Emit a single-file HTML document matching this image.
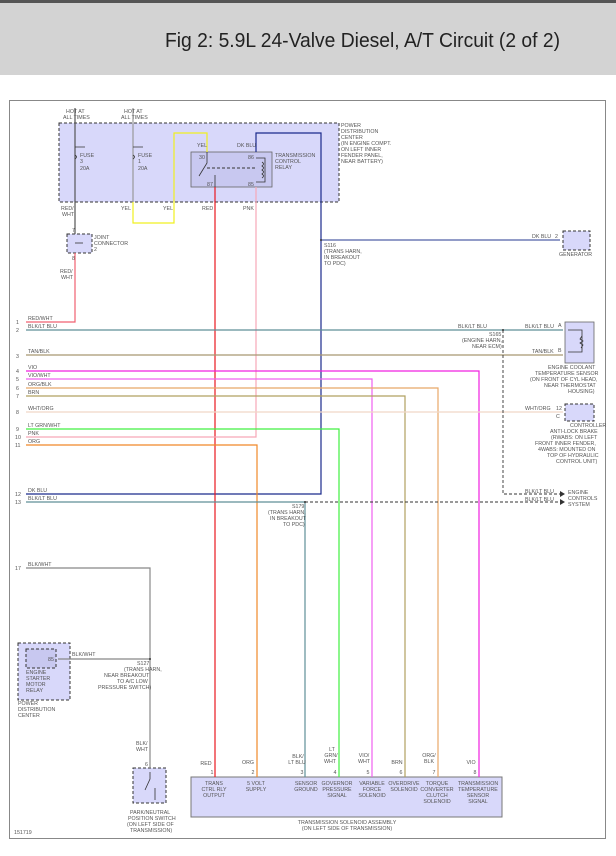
<!DOCTYPE html>
<html><head><meta charset="utf-8"><style>
body{margin:0;width:616px;height:856px;background:#fff;overflow:hidden}
svg{display:block}
text{font-family:"Liberation Sans",sans-serif;font-size:5.3px;fill:#555}
.t{font-size:20px;fill:#222}
</style></head><body>
<svg width="616" height="856" viewBox="0 0 616 856">
<rect x="0" y="0" width="616" height="3" fill="#555"/>
<rect x="0" y="3" width="616" height="72" fill="#d3d3d3"/>
<text x="165" y="47" class="t" textLength="395" lengthAdjust="spacingAndGlyphs">Fig 2: 5.9L 24-Valve Diesel, A/T Circuit (2 of 2)</text>
<rect x="9.5" y="100.5" width="596" height="738" fill="none" stroke="#888" stroke-width="1"/>

<!-- boxes -->
<rect x="59" y="123" width="280" height="79" fill="#d8d8fa" stroke="#333" stroke-width="1" stroke-dasharray="3,2"/>
<rect x="191" y="152" width="81" height="35" fill="#c8c8f0" stroke="#666" stroke-width="0.8"/>
<rect x="67" y="234" width="25" height="19" fill="#d8d8fa" stroke="#333" stroke-dasharray="3,2"/>
<rect x="563" y="231" width="27" height="19" fill="#d8d8fa" stroke="#333" stroke-dasharray="3,2"/>
<rect x="565" y="322" width="29" height="41" fill="#d8d8fa" stroke="#666" stroke-width="0.8"/>
<rect x="565" y="404" width="29" height="17" fill="#d8d8fa" stroke="#333" stroke-dasharray="3,2"/>
<rect x="18" y="643" width="52" height="57" fill="#d8d8fa" stroke="#333" stroke-dasharray="3,2"/>
<rect x="26" y="649" width="30" height="19" fill="#c8c8f0" stroke="#333" stroke-dasharray="3,2"/>
<rect x="133" y="768" width="33" height="35" fill="#d8d8fa" stroke="#333" stroke-dasharray="3,2"/>
<rect x="191" y="777" width="311" height="40" fill="#d8d8fa" stroke="#777" stroke-width="1"/>

<g fill="none" stroke-width="1.2">
<path d="M75 108V234" stroke="#555"/>
<path d="M133 108V202" stroke="#999"/>
<path d="M133 202V223H174V133H207V152" stroke="#f0f020"/>
<path d="M256 152V133H321V494H26" stroke="#1a2a8c"/>
<path d="M321 240H560" stroke="#5060a8"/>
<path d="M75 253V322H26" stroke="#f06070"/>
<path d="M215 187V777" stroke="#e81820"/>
<path d="M256 187V437H26" stroke="#f6a8b8"/>
<path d="M26 445H257V777" stroke="#f08828"/>
<path d="M26 330H563" stroke="#5f8f98"/>
<path d="M26 355H563" stroke="#a89870"/>
<path d="M26 371H479V777" stroke="#f020e0"/>
<path d="M26 379H372V777" stroke="#f060f0"/>
<path d="M26 388H438V777" stroke="#e8a868"/>
<path d="M26 396H405V777" stroke="#b0a060"/>
<path d="M26 412H563" stroke="#f0d8c8"/>
<path d="M26 429H339V777" stroke="#40f040"/>
<path d="M26 502H305V777" stroke="#5f8f98"/>
<path d="M26 568H150V768" stroke="#888"/>
<path d="M58 659H150" stroke="#888"/>
</g>
<g fill="none" stroke="#333" stroke-width="0.9" stroke-dasharray="3,2">
<path d="M305 502H560"/><path d="M503 330V494H560"/>
<path d="M207 168H256" />
</g>
<g fill="#333"><path d="M560 499l5 3-5 3z"/><path d="M560 491l5 3-5 3z"/>
<circle cx="503" cy="330" r="1"/><circle cx="305" cy="502" r="1"/><circle cx="321" cy="240" r="1"/><circle cx="150" cy="659" r="1"/>
</g>
<g fill="none" stroke="#333" stroke-width="0.8">
<path d="M207 152V163L199 176"/><path d="M215 187V175"/>
<path d="M256 158H265V182H256"/><path d="M262 162q3 2 0 4q3 2 0 4q3 2 0 4q3 2 0 4"/>
<path d="M75 147h10M133 147h10M75 155q3 2 0 4M133 155q3 2 0 4"/>
<path d="M75 243h8"/>
<path d="M150 772V779L145 790M155 788V800"/>
<path d="M568 330h14v22h-14M582 336l-2 3 3 2-3 2 3 2-2 3"/>
</g>

<text x="66" y="113">HOT AT</text><text x="63" y="119">ALL TIMES</text>
<text x="124" y="113">HOT AT</text><text x="121" y="119">ALL TIMES</text>
<text x="80" y="157">FUSE</text><text x="80" y="163">3</text><text x="80" y="170">20A</text>
<text x="138" y="157">FUSE</text><text x="138" y="163">1</text><text x="138" y="170">20A</text>
<text x="197" y="147">YEL</text><text x="237" y="147">DK BLU</text>
<text x="199" y="159">30</text><text x="248" y="159">86</text><text x="207" y="186">87</text><text x="248" y="186">85</text>
<text x="275" y="157">TRANSMISSION</text><text x="275" y="163">CONTROL</text><text x="275" y="169">RELAY</text>
<text x="341" y="127">POWER</text><text x="341" y="133">DISTRIBUTION</text><text x="341" y="139">CENTER</text><text x="341" y="145">(IN ENGINE COMPT.</text><text x="341" y="151">ON LEFT INNER</text><text x="341" y="157">FENDER PANEL,</text><text x="341" y="163">NEAR BATTERY)</text>
<text x="61" y="210">RED/</text><text x="62" y="216">WHT</text>
<text x="121" y="210">YEL</text><text x="163" y="210">YEL</text><text x="202" y="210">RED</text><text x="243" y="210">PNK</text>
<text x="72" y="232">7</text><text x="72" y="260">8</text>
<text x="94" y="239">JOINT</text><text x="94" y="245">CONNECTOR</text><text x="94" y="251">2</text>
<text x="60" y="273">RED/</text><text x="61" y="279">WHT</text>
<text x="324" y="247">S116</text><text x="324" y="253">(TRANS HARN,</text><text x="324" y="259">IN BREAKOUT</text><text x="324" y="265">TO PDC)</text>
<text x="532" y="238">DK BLU</text><text x="555" y="238">2</text><text x="559" y="256">GENERATOR</text>
<g>
<text x="16" y="324">1</text><text x="28" y="320">RED/WHT</text>
<text x="16" y="332">2</text><text x="28" y="328">BLK/LT BLU</text>
<text x="16" y="358">3</text><text x="28" y="353">TAN/BLK</text>
<text x="16" y="373">4</text><text x="28" y="369">VIO</text>
<text x="16" y="381">5</text><text x="28" y="377">VIO/WHT</text>
<text x="16" y="390">6</text><text x="28" y="386">ORG/BLK</text>
<text x="16" y="398">7</text><text x="28" y="394">BRN</text>
<text x="16" y="414">8</text><text x="28" y="410">WHT/ORG</text>
<text x="16" y="431">9</text><text x="28" y="427">LT GRN/WHT</text>
<text x="15" y="439">10</text><text x="28" y="435">PNK</text>
<text x="15" y="447">11</text><text x="28" y="443">ORG</text>
<text x="15" y="496">12</text><text x="28" y="492">DK BLU</text>
<text x="15" y="504">13</text><text x="28" y="500">BLK/LT BLU</text>
<text x="15" y="570">17</text><text x="28" y="566">BLK/WHT</text>
</g>
<text x="458" y="328">BLK/LT BLU</text><text x="525" y="328">BLK/LT BLU</text><text x="558" y="327">A</text>
<text x="489" y="336">S165</text><text x="462" y="342">(ENGINE HARN,</text><text x="472" y="348">NEAR ECM)</text>
<text x="532" y="353">TAN/BLK</text><text x="558" y="352">B</text>
<text x="548" y="369">ENGINE COOLANT</text><text x="535" y="375">TEMPERATURE SENSOR</text><text x="530" y="381">(ON FRONT OF CYL HEAD,</text><text x="544" y="387">NEAR THERMOSTAT</text><text x="568" y="393">HOUSING)</text>
<text x="525" y="410">WHT/ORG</text><text x="556" y="410">12</text><text x="556" y="418">C</text>
<text x="570" y="427">CONTROLLER</text><text x="550" y="433">ANTI-LOCK BRAKE</text><text x="551" y="439">(RWABS: ON LEFT</text><text x="535" y="445">FRONT INNER FENDER,</text><text x="538" y="451">4WABS: MOUNTED ON</text><text x="547" y="457">TOP OF HYDRAULIC</text><text x="556" y="463">CONTROL UNIT)</text>
<text x="525" y="493">BLK/LT BLU</text><text x="525" y="501">BLK/LT BLU</text>
<text x="568" y="494">ENGINE</text><text x="568" y="500">CONTROLS</text><text x="568" y="506">SYSTEM</text>
<text x="292" y="508">S179</text><text x="268" y="514">(TRANS HARN,</text><text x="270" y="520">IN BREAKOUT</text><text x="283" y="526">TO PDC)</text>
<text x="72" y="656">BLK/WHT</text><text x="48" y="661">85</text>
<text x="26" y="674">ENGINE</text><text x="26" y="680">STARTER</text><text x="26" y="686">MOTOR</text><text x="26" y="692">RELAY</text>
<text x="18" y="705">POWER</text><text x="18" y="711">DISTRIBUTION</text><text x="18" y="717">CENTER</text>
<text x="137" y="665">S127</text><text x="124" y="671">(TRANS HARN,</text><text x="104" y="677">NEAR BREAKOUT</text><text x="117" y="683">TO A/C LOW</text><text x="98" y="689">PRESSURE SWITCH)</text>
<text x="136" y="745">BLK/</text><text x="136" y="751">WHT</text><text x="145" y="766">6</text>
<text x="130" y="814">PARK/NEUTRAL</text><text x="128" y="820">POSITION SWITCH</text><text x="127" y="826">(ON LEFT SIDE OF</text><text x="130" y="832">TRANSMISSION)</text>
<text x="14" y="834">151719</text>
<g text-anchor="middle">
<text x="206" y="765">RED</text><text x="248" y="764">ORG</text>
<text x="298" y="758">BLK/</text><text x="297" y="764">LT BLU</text>
<text x="332" y="751">LT</text><text x="331" y="757">GRN/</text><text x="330" y="763">WHT</text>
<text x="364" y="757">VIO/</text><text x="364" y="763">WHT</text>
<text x="397" y="764">BRN</text><text x="429" y="757">ORG/</text><text x="429" y="763">BLK</text><text x="471" y="764">VIO</text>
<text x="212" y="774">1</text><text x="253" y="774">2</text><text x="302" y="774">3</text><text x="335" y="774">4</text><text x="368" y="774">5</text><text x="401" y="774">6</text><text x="434" y="774">7</text><text x="475" y="774">8</text>
<text x="214" y="785">TRANS</text><text x="214" y="791">CTRL RLY</text><text x="214" y="797">OUTPUT</text>
<text x="256" y="785">5 VOLT</text><text x="256" y="791">SUPPLY</text>
<text x="306" y="785">SENSOR</text><text x="306" y="791">GROUND</text>
<text x="337" y="785">GOVERNOR</text><text x="337" y="791">PRESSURE</text><text x="337" y="797">SIGNAL</text>
<text x="372" y="785">VARIABLE</text><text x="372" y="791">FORCE</text><text x="372" y="797">SOLENOID</text>
<text x="404" y="785">OVERDRIVE</text><text x="404" y="791">SOLENOID</text>
<text x="437" y="785">TORQUE</text><text x="437" y="791">CONVERTER</text><text x="437" y="797">CLUTCH</text><text x="437" y="803">SOLENOID</text>
<text x="478" y="785">TRANSMISSION</text><text x="478" y="791">TEMPERATURE</text><text x="478" y="797">SENSOR</text><text x="478" y="803">SIGNAL</text>
<text x="347" y="824">TRANSMISSION SOLENOID ASSEMBLY</text><text x="347" y="830">(ON LEFT SIDE OF TRANSMISSION)</text>
</g>
</svg>
</body></html>
